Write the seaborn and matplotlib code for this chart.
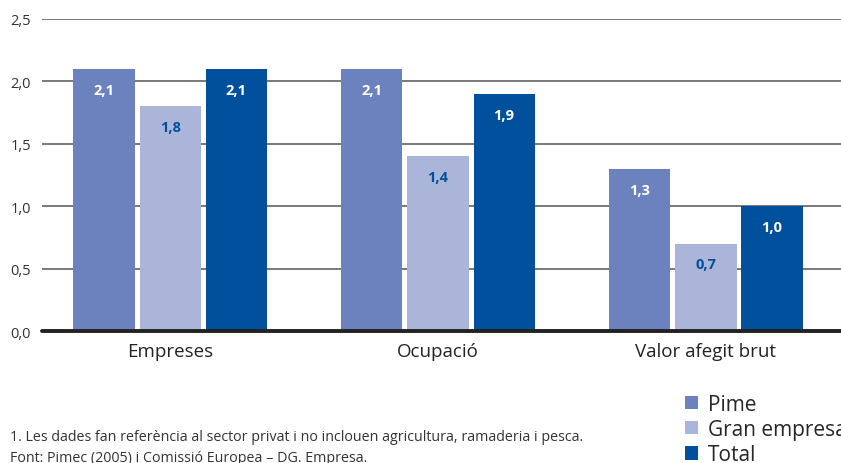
import matplotlib
matplotlib.use("Agg")
import matplotlib.pyplot as plt
import seaborn as sns
import pandas as pd
from matplotlib.patches import Patch

categories = ["Empreses", "Ocupació", "Valor afegit brut"]
series_names = ["Pime", "Gran empresa", "Total"]
pime = [2.1, 2.1, 1.3]
gran = [1.8, 1.4, 0.7]
total = [2.1, 1.9, 1.0]
yticks = [0.0, 0.5, 1.0, 1.5, 2.0, 2.5]
colors = ["#6B82BF", "#ABB5DA", "#00509E"]
label_colors = ["white", "#00509E", "white"]

rows = []
for name, vals in zip(series_names, [pime, gran, total]):
    for c, v in zip(categories, vals):
        rows.append({"cat": c, "serie": name, "val": v})
df = pd.DataFrame(rows)

sns.set_theme(style="white")
plt.rcParams['font.family'] = ['Open Sans', 'DejaVu Sans']

fig = plt.figure(figsize=(8.41, 4.64), dpi=100)
ax = fig.add_axes([42/841, 1-332/464, 1-42/841, (332-20)/464])

sns.barplot(data=df, x="cat", y="val", hue="serie", order=categories,
            hue_order=series_names, palette=colors, width=0.74, gap=0.075,
            saturation=1, legend=False, ax=ax, zorder=3, linewidth=0)

for container, lc in zip(ax.containers, label_colors):
    for bar in container:
        h = bar.get_height()
        ax.annotate(f"{h:.1f}".replace(".", ","),
                    (bar.get_x() + bar.get_width()/2, h),
                    xytext=(0, -15), textcoords="offset points",
                    ha="center", va="center", color=lc, fontsize=10.5,
                    fontweight="bold", zorder=4)

ax.set_ylim(0, 2.5)
ax.set_xlim(-0.478, 2.504)
ax.set_yticks(yticks)
ax.set_yticklabels([f"{t:.1f}".replace(".", ",") for t in yticks], fontsize=10.5, color="#333333")
ax.tick_params(axis="y", length=0, pad=8)
ax.tick_params(axis="x", length=0, pad=8, labelsize=13.5, labelcolor="#222222")
for t in yticks[1:]:
    ax.axhline(t, color="#555555", lw=1.1, zorder=1)
ax.axhline(0, color="#222222", lw=2.8, zorder=5, clip_on=False)
for s in ax.spines.values():
    s.set_visible(False)
ax.set_xlabel("")
ax.set_ylabel("")

fig.text(10/841, 1-438/464, "1. Les dades fan referència al sector privat i no inclouen agricultura, ramaderia i pesca.",
         fontsize=10.3, color="#333333", va="center", ha="left")
fig.text(10/841, 1-459/464, "Font: Pimec (2005) i Comissió Europea – DG. Empresa.",
         fontsize=10.3, color="#333333", va="center", ha="left")

handles = [Patch(facecolor=c, edgecolor="none") for c in colors]
fig.legend(handles, series_names, loc="upper left", bbox_to_anchor=(685/841, 1-395/464),
           frameon=False, fontsize=15, handlelength=0.6, handleheight=0.6,
           handletextpad=0.48, labelspacing=0.2, borderaxespad=0, borderpad=0)

fig.savefig("out.png", dpi=100)
